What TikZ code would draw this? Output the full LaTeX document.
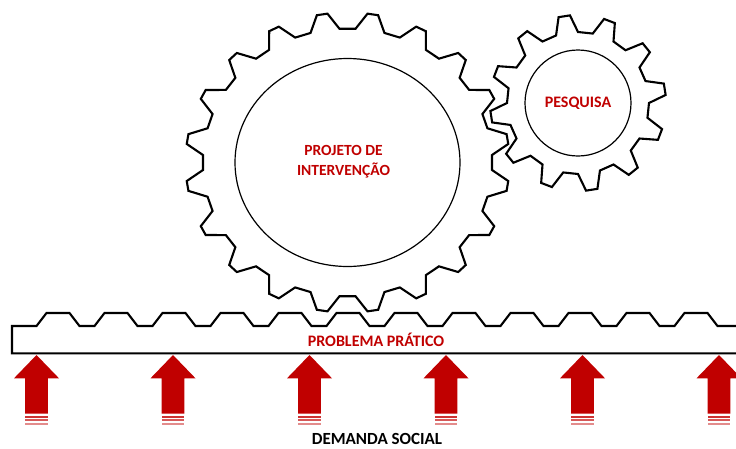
\documentclass[tikz,border=0pt]{standalone}
\usepackage{fontspec}
\setmainfont{Carlito}
\definecolor{dred}{HTML}{C00000}
\begin{document}
\begin{tikzpicture}[x=1pt,y=-1pt,
  gearline/.style={line width=2.1pt, line join=miter, black},
  thinline/.style={line width=1.2pt, black},
  redlabel/.style={text=dred, font=\bfseries\fontsize{16}{20}\selectfont, align=center, inner sep=0pt},
  blacklabel/.style={text=black, font=\bfseries\fontsize{17}{20}\selectfont, inner sep=0pt},
  arrowfill/.style={fill=dred}]
\useasboundingbox (0,0) rectangle (736,448);
\clip (0,0) rectangle (736,448);
% big gear
\begin{scope}[shift={(347.5,162.5)}]
\draw[gearline] ({1.08*134*sin(3.2)},{-134*cos(3.2)})
  \foreach \k in {0,...,19} {
    -- ({1.08*134*sin(9+18*\k-5.8)},{-134*cos(9+18*\k-5.8)})
    -- ({1.08*150*sin(9+18*\k-1.9)},{-150*cos(9+18*\k-1.9)})
    -- ({1.08*150*sin(9+18*\k+1.9)},{-150*cos(9+18*\k+1.9)})
    -- ({1.08*134*sin(9+18*\k+5.8)},{-134*cos(9+18*\k+5.8)})
  } -- cycle;
\draw[thinline] (0,0) ellipse [x radius=112.5, y radius=104];
\end{scope}
% small gear
\begin{scope}[shift={(578,103)}]
\draw[gearline] ({71*sin(-18)},{-71*cos(-18)})
  \foreach \k in {0,...,11} {
    -- ({71*sin(-9+30*\k-9)},{-71*cos(-9+30*\k-9)})
    -- ({88*sin(-9+30*\k-3.75)},{-88*cos(-9+30*\k-3.75)})
    -- ({88*sin(-9+30*\k+3.75)},{-88*cos(-9+30*\k+3.75)})
    -- ({71*sin(-9+30*\k+9)},{-71*cos(-9+30*\k+9)})
  } -- cycle;
\draw[thinline] (0,0) circle [radius=53];
\end{scope}
% rack
\draw[gearline] (740,353.3) -- (12,353.3) -- (12,326)
  \foreach \k in {0,...,11} {
    -- ({58+58*\k-21.5},326) -- ({58+58*\k-11.5},313)
    -- ({58+58*\k+11.5},313) -- ({58+58*\k+21.5},326)
  } -- (740,326);
% arrows
\foreach \x in {36.5,173,309.5,446,582.5,719} {
  \fill[arrowfill] (\x,355) -- (\x+22.5,378.3) -- (\x+11.3,378.3) -- (\x+11.3,413.5)
    -- (\x-11.3,413.5) -- (\x-11.3,378.3) -- (\x-22.5,378.3) -- cycle;
  \fill[dred!80] (\x-11.3,416) rectangle (\x+11.3,417.8);
  \fill[dred!65] (\x-11.3,419.2) rectangle (\x+11.3,421);
  \fill[dred!45] (\x-11.3,422.6) rectangle (\x+11.3,424.6);
}
% labels
\node[redlabel, font=\bfseries\fontsize{15.5}{20}\selectfont] (proj) at (343.5,162) {PROJETO DE\\INTERVENÇÃO};
\node[redlabel] (pesq) at (578,103) {PESQUISA};
\node[redlabel] (prob) at (376,340) {PROBLEMA PRÁTICO};
\node[blacklabel] (dem) at (377,439) {DEMANDA SOCIAL};
\end{tikzpicture}
\end{document}
